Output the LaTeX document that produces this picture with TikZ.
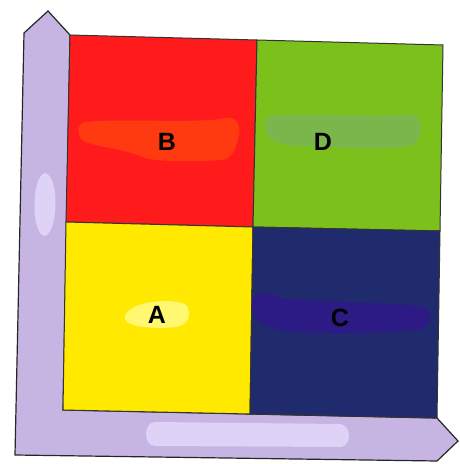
\documentclass[tikz,border=0pt]{standalone}
\usepackage{fontspec}
\setmainfont{Liberation Sans}
\begin{document}
\begin{tikzpicture}[x=1pt,y=-1pt,
  cell/.style={draw=black!80,line width=1pt},
  lbl/.style={font=\bfseries\fontsize{25}{25}\selectfont,text=black},
  blob/.style={line width=0pt}]
\useasboundingbox[fill=white] (0,0) rectangle (460,464);
\definecolor{lav}{HTML}{C6B5E2}
\definecolor{lavl}{HTML}{DED3F6}
\definecolor{cred}{HTML}{FF1B1B}
\definecolor{cgreen}{HTML}{7CC01C}
\definecolor{cyellow}{HTML}{FFE900}
\definecolor{cnavy}{HTML}{1F2B6C}
\definecolor{bred}{HTML}{FF3A10}
\definecolor{bgreen}{HTML}{7BB64C}
\definecolor{byel}{HTML}{FFF870}
\definecolor{bnavy}{HTML}{2C1B84}
% corner coordinates of the grid
\coordinate (tl) at (70,35);
\coordinate (tm) at (257,40);
\coordinate (tr) at (443,45);
\coordinate (ml) at (66,222);
\coordinate (mm) at (253,227);
\coordinate (mr) at (440,231);
\coordinate (bl) at (63,410);
\coordinate (bm) at (250,414);
\coordinate (br) at (437,418);
% L-shaped arrow frame
\draw[fill=lav,draw=black!85,line width=1.2pt,line join=miter]
  (tl) -- (48,11) -- (24,33) -- (15,455) -- (437,461) -- (458,441) -- (br) -- (bl) -- cycle;
\fill[lavl] (45,173) .. controls (60,176) and (58,232) .. (45,236) .. controls (31,236) and (31,176) .. (45,173) -- cycle;
\fill[lavl] (155,422) -- (340,424) .. controls (352,425) and (352,447) .. (340,447) -- (155,446) .. controls (143,446) and (143,422) .. (155,422) -- cycle;
% cells
\filldraw[cell,fill=cred] (tl) -- (tm) -- (mm) -- (ml) -- cycle;
\filldraw[cell,fill=cgreen] (tm) -- (tr) -- (mr) -- (mm) -- cycle;
\filldraw[cell,fill=cyellow] (ml) -- (mm) -- (bm) -- (bl) -- cycle;
\filldraw[cell,fill=cnavy] (mm) -- (mr) -- (br) -- (bm) -- cycle;
% scribbles
\fill[bred] (85,122) .. controls (120,118) and (200,124) .. (225,118) .. controls (238,116) and (242,128) .. (238,138) .. controls (236,150) and (232,158) .. (222,160) .. controls (190,162) and (150,162) .. (140,156) .. controls (120,148) and (90,146) .. (82,140) .. controls (76,132) and (78,123) .. (85,122) -- cycle;
\fill[bgreen] (270,116) .. controls (300,112) and (380,118) .. (410,114) .. controls (424,114) and (424,140) .. (412,146) .. controls (380,150) and (330,148) .. (300,146) .. controls (285,146) and (268,142) .. (266,132) .. controls (264,122) and (266,117) .. (270,116) -- cycle;
\fill[byel] (130,310) .. controls (140,300) and (180,298) .. (187,306) .. controls (192,315) and (188,325) .. (176,327) .. controls (160,329) and (135,328) .. (127,322) .. controls (123,318) and (125,313) .. (130,310) -- cycle;
\fill[bnavy] (255,296) .. controls (262,290) and (272,292) .. (280,298) .. controls (320,302) and (380,302) .. (420,306) .. controls (434,308) and (434,326) .. (420,330) .. controls (380,334) and (320,334) .. (290,332) .. controls (270,330) and (252,322) .. (252,310) .. controls (251,302) and (252,298) .. (255,296) -- cycle;
% labels
\node[lbl] (B) at (167,142) {B};
\node[lbl] (D) at (323,142) {D};
\node[lbl] (A) at (157,315) {A};
\node[lbl] (C) at (340,318) {C};
\end{tikzpicture}
\end{document}
